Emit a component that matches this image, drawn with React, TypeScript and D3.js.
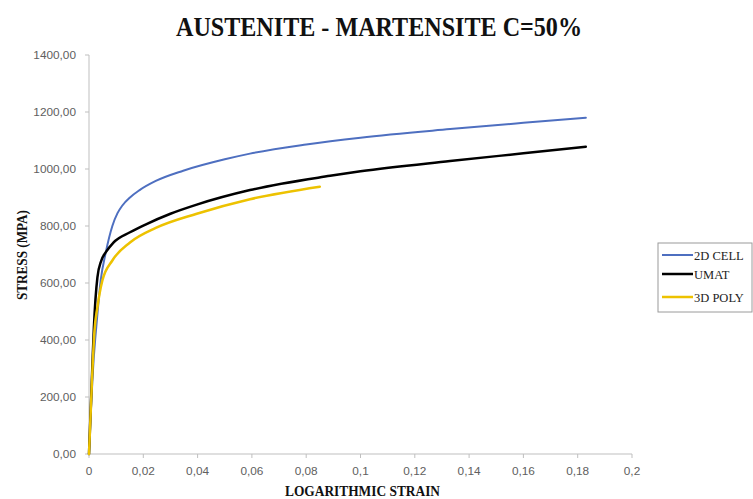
import React from "react";
import * as d3 from "d3";

const xTicks = [0, 0.02, 0.04, 0.06, 0.08, 0.1, 0.12, 0.14, 0.16, 0.18, 0.2];
const yTicks = [0, 200, 400, 600, 800, 1000, 1200, 1400];

const cellStrain = [0, 0.0015, 0.003, 0.0043, 0.0062, 0.0086, 0.0105, 0.0123, 0.0151, 0.0185, 0.0246, 0.0347, 0.05, 0.0593, 0.08, 0.1, 0.133, 0.16, 0.183];
const cellStress = [0, 300, 480, 608, 708, 800, 845, 872, 900, 925, 958, 994, 1034, 1054, 1086, 1110, 1140, 1162, 1180];

const umatStrain = [0, 0.0012, 0.0018, 0.0031, 0.0045, 0.0062, 0.009, 0.0151, 0.021, 0.03, 0.0397, 0.0593, 0.0888, 0.1, 0.133, 0.16, 0.183];
const umatStress = [0, 300, 444, 620, 678, 708, 742, 778, 806, 843, 875, 926, 976, 992, 1028, 1055, 1078];

const polyStrain = [0, 0.0012, 0.002, 0.0031, 0.0049, 0.0086, 0.0151, 0.0246, 0.0397, 0.0593, 0.085];
const polyStress = [0, 280, 430, 515, 608, 679, 742, 793, 843, 894, 938];

const seriesNames = ["2D CELL", "UMAT", "3D POLY"];
const seriesColors = ["#4E6FC0", "#000000", "#EDC200"];
const seriesWidths = [2, 2.5, 2.5];

const fmtX = (v: number) => (v === 0 ? "0" : String(v).replace(".", ","));
const fmtY = (v: number) => v.toFixed(2).replace(".", ",");

export default function App() {
  const W = 753, H = 499;
  const x = d3.scaleLinear().domain([0, 0.2]).range([89, 632]);
  const y = d3.scaleLinear().domain([0, 1400]).range([454, 55]);
  const line = d3
    .line<[number, number]>()
    .x((d) => x(d[0]))
    .y((d) => y(d[1]))
    .curve(d3.curveMonotoneX);

  const series = [
    d3.zip(cellStrain, cellStress) as [number, number][],
    d3.zip(umatStrain, umatStress) as [number, number][],
    d3.zip(polyStrain, polyStress) as [number, number][],
  ];

  const serif = "'Liberation Serif', 'Times New Roman', serif";
  const sans = "'Liberation Sans', Arial, sans-serif";
  const legendY = [255, 274, 297];

  return (
    <div style={{ position: "absolute", left: 0, top: 0 }}>
      <svg width={W} height={H} style={{ display: "block", background: "#fff" }}>
        <text
          x={379}
          y={35.5}
          textAnchor="middle"
          fontFamily={serif}
          fontWeight="bold"
          fontSize={28}
          textLength={406}
          lengthAdjust="spacingAndGlyphs"
          fill="#111"
        >
          AUSTENITE - MARTENSITE C=50%
        </text>

        {/* axes */}
        <line x1={x(0)} x2={x(0)} y1={y(0)} y2={y(1400)} stroke="#bfbfbf" strokeWidth={1} />
        <line x1={x(0)} x2={x(0.2)} y1={y(0)} y2={y(0)} stroke="#bfbfbf" strokeWidth={1} />
        {yTicks.map((t) => (
          <g key={"y" + t}>
            <line x1={x(0) - 4} x2={x(0)} y1={y(t)} y2={y(t)} stroke="#bfbfbf" />
            <text x={76} y={y(t) + 4} textAnchor="end" fontFamily={sans} fontSize={11.8} fill="#606060">
              {fmtY(t)}
            </text>
          </g>
        ))}
        {xTicks.map((t) => (
          <g key={"x" + t}>
            <line x1={x(t)} x2={x(t)} y1={y(0)} y2={y(0) + 4} stroke="#bfbfbf" />
            <text x={x(t)} y={475} textAnchor="middle" fontFamily={sans} fontSize={11.8} fill="#606060">
              {fmtX(t)}
            </text>
          </g>
        ))}

        <text
          x={362.5}
          y={496}
          textAnchor="middle"
          fontFamily={serif}
          fontWeight="bold"
          fontSize={14.5}
          textLength={155}
          lengthAdjust="spacingAndGlyphs"
          fill="#111"
        >
          LOGARITHMIC STRAIN
        </text>
        <text
          transform={`translate(26.5,255) rotate(-90)`}
          textAnchor="middle"
          fontFamily={serif}
          fontWeight="bold"
          fontSize={14.5}
          textLength={90}
          lengthAdjust="spacingAndGlyphs"
          fill="#111"
        >
          STRESS (MPA)
        </text>

        {series.map((s, i) => (
          <path
            key={seriesNames[i]}
            d={line(s) || ""}
            fill="none"
            stroke={seriesColors[i]}
            strokeWidth={seriesWidths[i]}
            strokeLinejoin="round"
            strokeLinecap="round"
          />
        ))}

        {/* legend */}
        <rect x={658} y={243} width={94} height={69} fill="#fff" stroke="#9a9a9a" strokeWidth={1} />
        {seriesNames.map((n, i) => (
          <g key={"lg" + n}>
            <line x1={662} x2={693} y1={legendY[i]} y2={legendY[i]} stroke={seriesColors[i]} strokeWidth={seriesWidths[i]} />
            <text x={694} y={legendY[i] + 4.5} fontFamily={serif} fontSize={12.5} fill="#222">
              {n}
            </text>
          </g>
        ))}
      </svg>
    </div>
  );
}
